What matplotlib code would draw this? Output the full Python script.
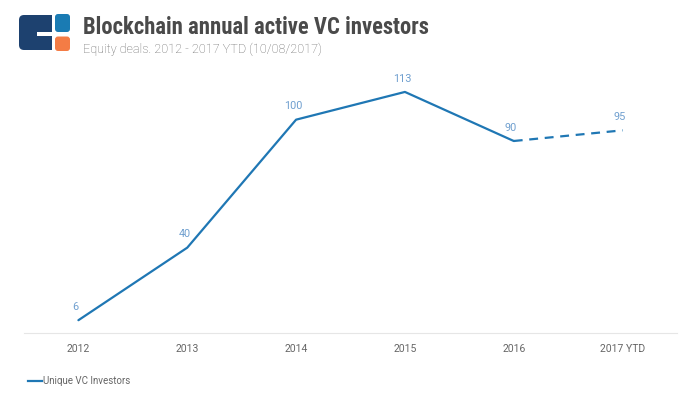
import matplotlib.pyplot as plt
from matplotlib.patches import FancyBboxPatch, Rectangle

years = ['2012', '2013', '2014', '2015', '2016', '2017 YTD']
investors = [6, 40, 100, 113, 90, 95]

line_color = '#1f77b4'
label_color = '#6f9fcf'
gray = '#666666'

plt.rcParams['font.family'] = ['Roboto', 'DejaVu Sans']

fig = plt.figure(figsize=(6.82, 3.97), dpi=100)
ax = fig.add_axes([24 / 682, 1 - 333 / 397, 653 / 682, 256 / 397])

x = list(range(len(years)))
# solid for full years, dashed for the partial year
ax.plot(x[:-1], investors[:-1], color=line_color, lw=1.6, solid_capstyle='round')
ax.plot(x[-2:], investors[-2:], color=line_color, lw=1.6, ls=(0, (4, 3)))

for xi, v in zip(x, investors):
    ax.annotate(str(v), (xi, v), xytext=(-2, 6), textcoords='offset points',
                ha='center', va='bottom', fontsize=7.8, color=label_color)

ax.set_xlim(-0.5, len(years) - 0.5)
ax.set_ylim(0, 120)
ax.set_yticks([])
ax.set_xticks(x)
ax.set_xticklabels(years, fontsize=7.5, color=gray)
ax.tick_params(axis='x', length=0, pad=8)
for s in ['top', 'right', 'left']:
    ax.spines[s].set_visible(False)
ax.spines['bottom'].set_color('#e6e6e6')

# logo
logo = fig.add_axes([0, 0, 1, 1], zorder=-1)
logo.set_xlim(0, 682)
logo.set_ylim(397, 0)
logo.axis('off')
logo.add_patch(FancyBboxPatch((19, 15), 31, 35, boxstyle='round,pad=0,rounding_size=5',
                              fc='#1d416f', ec='none'))
logo.add_patch(Rectangle((44, 15), 8, 35, fc='#1d416f', ec='none'))
logo.add_patch(Rectangle((37, 32), 16, 4, fc='white', ec='none'))
logo.add_patch(FancyBboxPatch((55, 14), 15, 18, boxstyle='round,pad=0,rounding_size=3',
                              fc='#1a7bb3', ec='none'))
logo.add_patch(FancyBboxPatch((55, 36.5), 15, 14.5, boxstyle='round,pad=0,rounding_size=3',
                              fc='#f47c45', ec='none'))

fig.text(83 / 682, 1 - 34 / 397, 'Blockchain annual active VC investors',
         fontsize=16.3, fontweight='bold', color='#4a4a4a',
         family=['Liberation Sans Narrow', 'Roboto Condensed', 'Roboto'])
fig.text(83 / 682, 1 - 53 / 397, 'Equity deals. 2012 - 2017 YTD (10/08/2017)',
         fontsize=9.1, fontweight='light', color='#666666')

# legend
logo.plot([28, 42], [381, 381], color=line_color, lw=1.6)
logo.text(43, 381, 'Unique VC Investors', fontsize=7, color=gray, va='center')

fig.savefig('out.png', dpi=100)
